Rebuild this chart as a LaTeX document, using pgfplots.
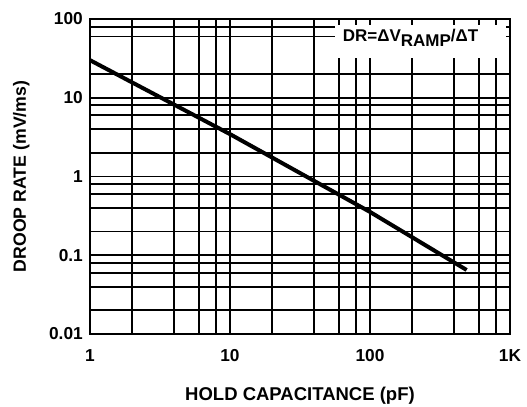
\documentclass[border=0pt]{standalone}
\usepackage{pgfplots}
\pgfplotsset{compat=1.18}
\usepackage{fontspec}
\setmainfont{Liberation Sans}
\begin{document}
\begin{tikzpicture}
\begin{axis}[
  scale only axis,
  width=420bp, height=315bp,
  xmode=log, ymode=log,
  xmin=1, xmax=1000, ymin=0.01, ymax=100,
  xtick={1,10,100,1000},
  xticklabels={1,10,100,1K},
  ytick={0.01,0.1,1,10,100},
  yticklabels={0.01,0.1,1,10,100},
  minor xtick={2,4,6,8,20,40,60,80,200,400,600,800},
  minor ytick={0.02,0.04,0.06,0.08,0.2,0.4,0.6,0.8,2,4,6,8,20,60,80},
  grid=both,
  major grid style={black, line width=1.9bp},
  minor grid style={black, line width=1.9bp},
  axis line style={black, line width=2bp},
  major tick length=0pt, minor tick length=0pt,
  /pgf/number format/assume math mode=true,
  tick label style={font=\bfseries\fontsize{17.3bp}{20bp}\selectfont, inner sep=0pt},
  xticklabel style={anchor=north, yshift=-15bp},
  yticklabel style={anchor=east, xshift=-7bp},
  clip=false,
]
\addplot[black, line width=4bp, line cap=butt] coordinates {
  (1,30) (10,3.45) (100,0.355) (490,0.065)
};
\fill[white] (rel axis cs:0.583,0.875) rectangle (rel axis cs:0.99,0.981);
\node[anchor=base west, inner sep=0pt, font=\bfseries\fontsize{17bp}{20bp}\selectfont]
  at (rel axis cs:0.6016,0.928) {DR=ΔV\raisebox{-0.28em}{RAMP}/ΔT};
\node[anchor=base, inner sep=0pt, font=\bfseries\fontsize{18.5bp}{20bp}\selectfont]
  at ([yshift=-66.5bp]rel axis cs:0.5,0) {HOLD CAPACITANCE (pF)};
\node[anchor=base, rotate=90, inner sep=0pt, font=\bfseries\fontsize{17.7bp}{20bp}\selectfont]
  at ([xshift=-64bp]rel axis cs:0,0.5) {DROOP RATE (mV/ms)};
\end{axis}
\pgfresetboundingbox
\path[use as bounding box] (-90bp,-73bp) rectangle (437bp,334bp);
\end{tikzpicture}
\end{document}
